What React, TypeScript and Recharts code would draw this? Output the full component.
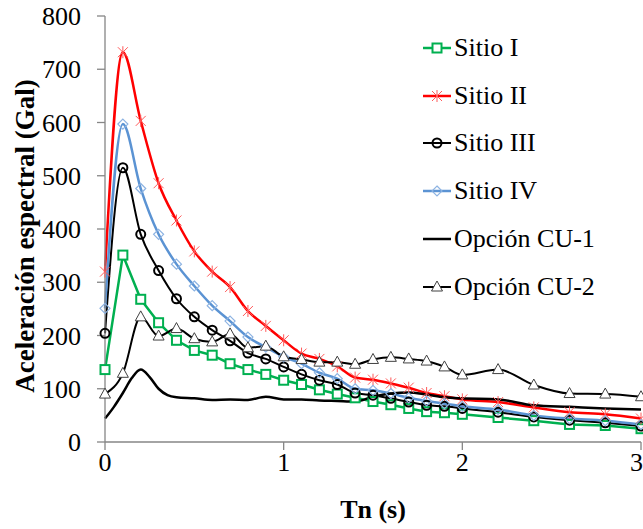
import { LineChart, Line, XAxis, YAxis, Legend } from 'recharts'

// Periodos (s) donde se muestrean los espectros de sitio
const TN = [0, 0.1, 0.2, 0.3, 0.4, 0.5, 0.6, 0.7, 0.8, 0.9, 1.0, 1.1, 1.2, 1.3, 1.4, 1.5, 1.6, 1.7, 1.8, 1.9, 2.0, 2.2, 2.4, 2.6, 2.8, 3.0]

const SITIO_I = [136, 351, 268, 224, 191, 172, 163, 147, 136, 127, 116, 108, 98, 90, 83, 76, 70, 63, 57, 55, 52, 46, 40, 33, 31, 25]
const SITIO_II = [320, 732, 603, 486, 416, 358, 320, 291, 246, 218, 191, 166, 156, 142, 121, 117, 110, 102, 92, 86, 80, 75, 65, 56, 52, 44]
const SITIO_III = [204, 515, 390, 322, 269, 235, 210, 190, 167, 156, 141, 127, 116, 108, 92, 88, 82, 75, 69, 67, 63, 56, 47, 41, 36, 30]
const SITIO_IV = [251, 597, 476, 390, 334, 293, 256, 227, 197, 178, 160, 147, 130, 119, 100, 97, 91, 83, 77, 72, 67, 61, 50, 44, 40, 33]
const CU2 = [90, 129, 235, 199, 213, 194, 188, 203, 177, 180, 160, 155, 150, 150, 146, 155, 159, 156, 152, 141, 126, 136, 107, 91, 90, 85]

// Opción CU-1 va sin marcadores y con más resolución
const CU1_TN = [0, 0.05, 0.1, 0.15, 0.2, 0.25, 0.3, 0.35, 0.4, 0.5, 0.6, 0.7, 0.8, 0.9, 1.0, 1.1, 1.2, 1.3, 1.4, 1.5, 1.6, 1.7, 1.8, 1.9, 2.0, 2.2, 2.4, 2.6, 2.8, 3.0]
const CU1 = [44, 66, 92, 120, 136, 122, 100, 88, 84, 82, 79, 80, 79, 85, 80, 80, 78, 77, 76, 85, 91, 93, 89, 84, 82, 80, 69, 66, 63, 61]

const Y_TICKS = [0, 100, 200, 300, 400, 500, 600, 700, 800]
const X_TICKS = [0, 1, 2, 3]

const FONT = 'Liberation Serif, DejaVu Serif, serif'
const AXIS_COLOR = '#868686'

const toRows = (xs: number[], ys: number[]) => xs.map((t, i) => ({ t, v: ys[i] }))

type DotProps = { cx?: number; cy?: number; index?: number }

const SquareDot = ({ cx = 0, cy = 0, index }: DotProps) => (
  <rect key={index} x={cx - 4.5} y={cy - 4.5} width={9} height={9} fill="#fff" stroke="#00B050" strokeWidth={2} />
)
const StarDot = ({ cx = 0, cy = 0, index }: DotProps) => (
  <path
    key={index}
    d={`M${cx - 5},${cy - 5}L${cx + 5},${cy + 5}M${cx - 5},${cy + 5}L${cx + 5},${cy - 5}M${cx},${cy - 6}L${cx},${cy + 6}`}
    stroke="#ff5a5a"
    strokeWidth={1}
    fill="none"
  />
)
const CircleDot = ({ cx = 0, cy = 0, index }: DotProps) => (
  <circle key={index} cx={cx} cy={cy} r={4.5} fill="none" stroke="#000" strokeWidth={2} />
)
const DiamondDot = ({ cx = 0, cy = 0, index }: DotProps) => (
  <path
    key={index}
    d={`M${cx},${cy - 5}L${cx + 5},${cy}L${cx},${cy + 5}L${cx - 5},${cy}Z`}
    fill="none"
    stroke="#8db3e2"
    strokeWidth={1.2}
  />
)
const TriangleDot = ({ cx = 0, cy = 0, index }: DotProps) => (
  <path
    key={index}
    d={`M${cx},${cy - 6}L${cx + 5.5},${cy + 4}L${cx - 5.5},${cy + 4}Z`}
    fill="#fff"
    stroke="#404040"
    strokeWidth={1}
  />
)

const SERIES = [
  { name: 'Sitio I', xs: TN, ys: SITIO_I, color: '#00B050', width: 2.5, type: 'linear', dot: SquareDot },
  { name: 'Sitio II', xs: TN, ys: SITIO_II, color: '#ff0000', width: 2.5, type: 'monotone', dot: StarDot },
  { name: 'Sitio III', xs: TN, ys: SITIO_III, color: '#000000', width: 2, type: 'monotone', dot: CircleDot },
  { name: 'Sitio IV', xs: TN, ys: SITIO_IV, color: '#5b93d3', width: 2.5, type: 'monotone', dot: DiamondDot },
  { name: 'Opción CU-1', xs: CU1_TN, ys: CU1, color: '#000000', width: 2.5, type: 'monotone', dot: null },
  { name: 'Opción CU-2', xs: TN, ys: CU2, color: '#000000', width: 2, type: 'monotone', dot: TriangleDot },
] as const

function LegendBox() {
  return (
    <div style={{ fontFamily: FONT, fontSize: 26, color: '#000' }}>
      {SERIES.map(s => {
        const Marker = s.dot
        return (
          <div key={s.name} style={{ display: 'flex', alignItems: 'center', height: 47.8 }}>
            <svg width={34} height={20} style={{ display: 'block' }}>
              <line x1={3} y1={10} x2={31} y2={10} stroke={s.color} strokeWidth={s.width} />
              {Marker ? <Marker cx={17} cy={10} /> : null}
            </svg>
            <span style={{ whiteSpace: 'nowrap', lineHeight: 1 }}>{s.name}</span>
          </div>
        )
      })}
    </div>
  )
}

// el título vertical queda un poco por debajo del centro del área de trazado
const Y_LABEL_CY = 236

export default function App() {
  return (
    <div style={{ position: 'absolute', left: 0, top: 0, width: 643, height: 529, background: '#fff' }}>
      <LineChart width={643} height={529} margin={{ top: 16, right: 2, bottom: 0, left: 0 }}>
        <XAxis
          dataKey="t"
          type="number"
          domain={[0, 3]}
          ticks={X_TICKS}
          allowDuplicatedCategory={false}
          height={87}
          tickSize={8}
          tickMargin={3}
          axisLine={{ stroke: AXIS_COLOR, strokeWidth: 1.3 }}
          tickLine={{ stroke: AXIS_COLOR, strokeWidth: 1.3 }}
          tick={{ fill: '#000', fontSize: 26, fontFamily: FONT }}
          label={({ viewBox }: any) => (
            <text
              x={viewBox.x + viewBox.width / 2}
              y={viewBox.y + 76}
              textAnchor="middle"
              fontFamily={FONT}
              fontSize={26}
              fontWeight="bold"
              fill="#000"
            >
              Tn (s)
            </text>
          )}
        />
        <XAxis
          xAxisId="top"
          orientation="top"
          type="number"
          domain={[0, 3]}
          height={0}
          tick={false}
          tickLine={false}
          axisLine={{ stroke: AXIS_COLOR, strokeWidth: 1.3 }}
        />
        <YAxis
          type="number"
          domain={[0, 800]}
          ticks={Y_TICKS}
          width={105}
          tickSize={8}
          tickMargin={16}
          axisLine={{ stroke: AXIS_COLOR, strokeWidth: 1.3 }}
          tickLine={{ stroke: AXIS_COLOR, strokeWidth: 1.3 }}
          tick={{ fill: '#000', fontSize: 26, fontFamily: FONT }}
          label={() => (
            <text
              x={34}
              y={Y_LABEL_CY}
              transform={`rotate(-90, 34, ${Y_LABEL_CY})`}
              textAnchor="middle"
              fontFamily={FONT}
              fontSize={27}
              fontWeight="bold"
              fill="#000"
            >
              Aceleración espectral (Gal)
            </text>
          )}
        />
        <YAxis
          yAxisId="right"
          orientation="right"
          type="number"
          domain={[0, 800]}
          width={0}
          tick={false}
          tickLine={false}
          axisLine={{ stroke: AXIS_COLOR, strokeWidth: 1.3 }}
        />
        {SERIES.map(s => (
          <Line
            key={s.name}
            data={toRows(s.xs as unknown as number[], s.ys as unknown as number[])}
            dataKey="v"
            name={s.name}
            type={s.type as any}
            stroke={s.color}
            strokeWidth={s.width}
            dot={s.dot ? (s.dot as any) : false}
            activeDot={false}
            isAnimationActive={false}
          />
        ))}
        <Legend
          layout="vertical"
          align="center"
          verticalAlign="middle"
          content={() => <LegendBox />}
          wrapperStyle={{ position: 'absolute', left: 420, top: 24, width: 220 }}
        />
      </LineChart>
    </div>
  )
}
